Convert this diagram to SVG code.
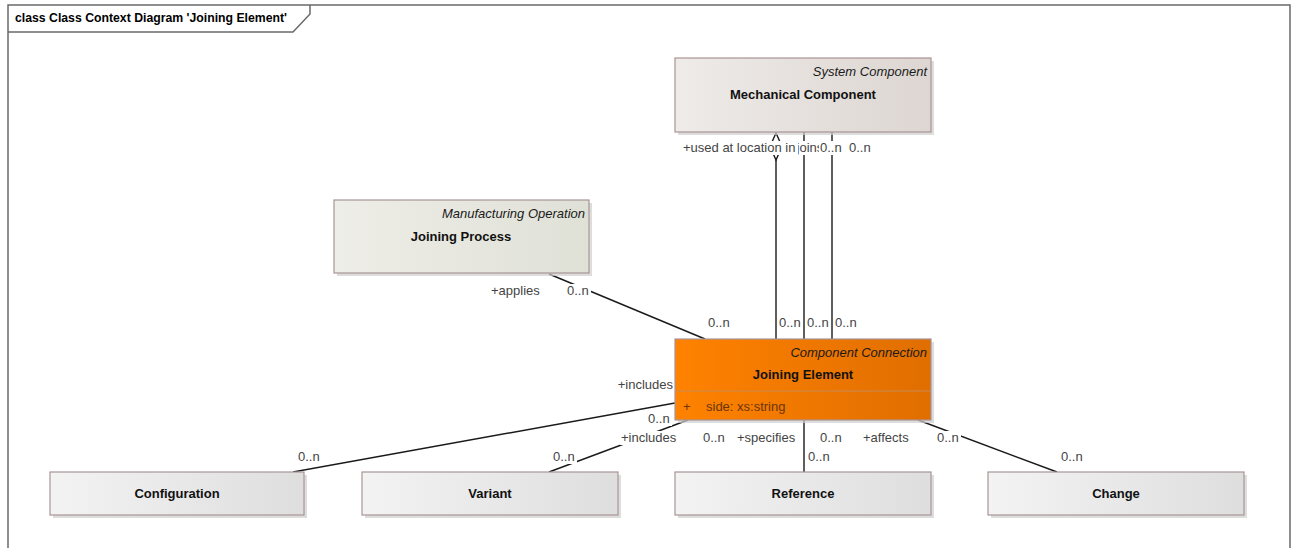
<svg xmlns="http://www.w3.org/2000/svg" width="1295" height="548" viewBox="0 0 1295 548">
  <style>
    text { font-family: "Liberation Sans", Arial, sans-serif; }
    .title { font-size: 12.5px; font-weight: bold; fill: #000; }
    .stereo { font-size: 13px; font-style: italic; fill: #1a1a1a; text-anchor: end; }
    .name { font-size: 13px; font-weight: bold; fill: #111; text-anchor: middle; }
    .attr { font-size: 13px; fill: #6a3608; }
    .lbl { font-size: 13px; fill: #444; }
    .lbg { fill: #fff; }
    .box { stroke: #a89494; stroke-width: 1.2; }
    .shadow { fill: #cfcfcf; opacity: 0.7; }
    .conn { stroke: #1a1a1a; stroke-width: 1.4; fill: none; }
  </style>
  <defs>
    <linearGradient id="gMech" x1="0" y1="0" x2="1" y2="0">
      <stop offset="0" stop-color="#eeebe8"/>
      <stop offset="1" stop-color="#ddd6d2"/>
    </linearGradient>
    <linearGradient id="gProc" x1="0" y1="0" x2="1" y2="0">
      <stop offset="0" stop-color="#eeeee8"/>
      <stop offset="1" stop-color="#dfe0d6"/>
    </linearGradient>
    <linearGradient id="gElem" x1="0" y1="0" x2="1" y2="0">
      <stop offset="0" stop-color="#ff8200"/>
      <stop offset="1" stop-color="#e06e00"/>
    </linearGradient>
    <linearGradient id="gPlain" x1="0" y1="0" x2="1" y2="0">
      <stop offset="0" stop-color="#f3f3f3"/>
      <stop offset="1" stop-color="#dedede"/>
    </linearGradient>
  </defs>

  <rect x="0" y="0" width="1295" height="548" fill="#fff"/>

  <!-- diagram frame with title tab -->
  <g id="frame">
    <path d="M8,548 V5 H1290 V548" fill="none" stroke="#6a6a6a" stroke-width="1.5"/>
    <path d="M8,32 H293 L310,14 V5" fill="none" stroke="#6a6a6a" stroke-width="1.5"/>
    <text class="title" x="15" y="22" textLength="272" lengthAdjust="spacingAndGlyphs">class Class Context Diagram 'Joining Element'</text>
  </g>

  <!-- associations -->
  <g id="connectors">
    <!-- Joining Process to Joining Element -->
    <line class="conn" x1="549" y1="274" x2="705" y2="339"/>
    <!-- Mechanical Component to Joining Element (three ends) -->
    <line class="conn" x1="776" y1="160" x2="776" y2="339"/>
    <path class="conn" d="M776,133 L770,146.5 L776,160 L782,146.5 Z" fill="#fff"/>
    <line class="conn" x1="804" y1="132" x2="804" y2="339"/>
    <line class="conn" x1="832" y1="132" x2="832" y2="339"/>
    <!-- Joining Element to Configuration -->
    <line class="conn" x1="675" y1="403" x2="293" y2="472"/>
    <!-- Joining Element to Variant -->
    <line class="conn" x1="688" y1="420" x2="549" y2="472"/>
    <!-- Joining Element to Reference -->
    <line class="conn" x1="804" y1="420" x2="804" y2="472"/>
    <!-- Joining Element to Change -->
    <line class="conn" x1="918" y1="420" x2="1057" y2="472"/>

    <!-- role and multiplicity labels -->
    <rect class="lbg" x="788" y="141" width="34" height="14"/>
    <text class="lbl" x="789" y="152">+joins</text>
    <rect class="lbg" x="682" y="141" width="116" height="14"/>
    <text class="lbl" x="683" y="152">+used at location in</text>
    <rect class="lbg" x="819" y="141" width="25" height="14"/>
    <text class="lbl" x="820" y="152">0..n</text>
    <rect class="lbg" x="848" y="141" width="25" height="14"/>
    <text class="lbl" x="849" y="152">0..n</text>

    <rect class="lbg" x="490" y="284" width="50" height="14"/>
    <text class="lbl" x="491" y="295">+applies</text>
    <rect class="lbg" x="566" y="284" width="25" height="14"/>
    <text class="lbl" x="567" y="295">0..n</text>

    <rect class="lbg" x="707" y="316" width="25" height="14"/>
    <text class="lbl" x="708" y="327">0..n</text>
    <rect class="lbg" x="779" y="316" width="23" height="14"/>
    <text class="lbl" x="779" y="327">0..n</text>
    <rect class="lbg" x="807" y="316" width="23" height="14"/>
    <text class="lbl" x="807" y="327">0..n</text>
    <rect class="lbg" x="835" y="316" width="25" height="14"/>
    <text class="lbl" x="835" y="327">0..n</text>

    <rect class="lbg" x="618" y="378" width="56" height="14"/>
    <text class="lbl" x="673" y="389" text-anchor="end">+includes</text>
    <rect class="lbg" x="647" y="412" width="25" height="14"/>
    <text class="lbl" x="648" y="423">0..n</text>

    <rect class="lbg" x="620" y="431" width="56" height="14"/>
    <text class="lbl" x="621" y="442">+includes</text>
    <rect class="lbg" x="702" y="431" width="25" height="14"/>
    <text class="lbl" x="703" y="442">0..n</text>
    <rect class="lbg" x="736" y="431" width="58" height="14"/>
    <text class="lbl" x="737" y="442">+specifies</text>
    <rect class="lbg" x="819" y="431" width="25" height="14"/>
    <text class="lbl" x="820" y="442">0..n</text>
    <rect class="lbg" x="862" y="431" width="49" height="14"/>
    <text class="lbl" x="863" y="442">+affects</text>
    <rect class="lbg" x="936" y="431" width="25" height="14"/>
    <text class="lbl" x="937" y="442">0..n</text>

    <rect class="lbg" x="297" y="450" width="25" height="14"/>
    <text class="lbl" x="298" y="461">0..n</text>
    <rect class="lbg" x="552" y="450" width="25" height="14"/>
    <text class="lbl" x="553" y="461">0..n</text>
    <rect class="lbg" x="807" y="450" width="25" height="14"/>
    <text class="lbl" x="808" y="461">0..n</text>
    <rect class="lbg" x="1060" y="450" width="25" height="14"/>
    <text class="lbl" x="1061" y="461">0..n</text>
  </g>

  <g id="mechanical-component">
    <rect class="shadow" x="678" y="61" width="256" height="74"/>
    <rect class="box" x="675" y="58" width="256" height="74" fill="url(#gMech)"/>
    <text class="stereo" x="927" y="76">System Component</text>
    <text class="name" x="803" y="99">Mechanical Component</text>
  </g>

  <g id="joining-process">
    <rect class="shadow" x="337" y="203" width="255" height="73"/>
    <rect class="box" x="334" y="200" width="255" height="73" fill="url(#gProc)"/>
    <text class="stereo" x="585" y="218">Manufacturing Operation</text>
    <text class="name" x="461" y="241">Joining Process</text>
  </g>

  <g id="joining-element">
    <rect class="shadow" x="678" y="342" width="256" height="81"/>
    <rect class="box" x="675" y="339" width="256" height="81" fill="url(#gElem)"/>
    <line x1="675" y1="391" x2="931" y2="391" stroke="#c98a55" stroke-width="1"/>
    <text class="stereo" x="927" y="357">Component Connection</text>
    <text class="name" x="803" y="379">Joining Element</text>
    <text class="attr" x="683" y="411">+</text>
    <text class="attr" x="706" y="411">side: xs:string</text>
  </g>

  <g id="configuration">
    <rect class="shadow" x="53" y="475" width="254" height="43"/>
    <rect class="box" x="50" y="472" width="254" height="43" fill="url(#gPlain)"/>
    <text class="name" x="177" y="498">Configuration</text>
  </g>

  <g id="variant">
    <rect class="shadow" x="365" y="475" width="256" height="43"/>
    <rect class="box" x="362" y="472" width="256" height="43" fill="url(#gPlain)"/>
    <text class="name" x="490" y="498">Variant</text>
  </g>

  <g id="reference">
    <rect class="shadow" x="678" y="475" width="256" height="43"/>
    <rect class="box" x="675" y="472" width="256" height="43" fill="url(#gPlain)"/>
    <text class="name" x="803" y="498">Reference</text>
  </g>

  <g id="change">
    <rect class="shadow" x="991" y="475" width="256" height="43"/>
    <rect class="box" x="988" y="472" width="256" height="43" fill="url(#gPlain)"/>
    <text class="name" x="1116" y="498">Change</text>
  </g>
</svg>
